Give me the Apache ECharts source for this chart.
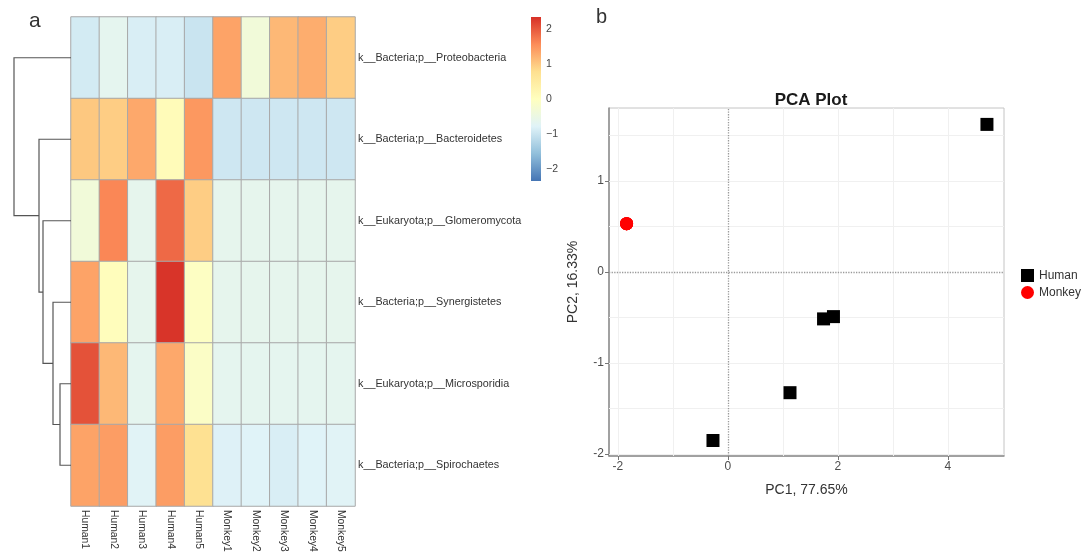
<!DOCTYPE html>
<html><head><meta charset="utf-8">
<script src="https://cdn.jsdelivr.net/npm/echarts@6/dist/echarts.min.js"></script>
<style>html,body{margin:0;padding:0;background:#fff}#c{width:1083px;height:552px}</style>
</head><body><div id="c"></div>
<script>
// ---------- data ----------
const heatCols = ['Human1','Human2','Human3','Human4','Human5','Monkey1','Monkey2','Monkey3','Monkey4','Monkey5'];
const heatRows = ['k__Bacteria;p__Proteobacteria','k__Bacteria;p__Bacteroidetes','k__Eukaryota;p__Glomeromycota',
                  'k__Bacteria;p__Synergistetes','k__Eukaryota;p__Microsporidia','k__Bacteria;p__Spirochaetes'];
const rowProteobacteria = [-0.9,-0.65,-0.85,-0.85,-1.0, 1.35,-0.35, 1.15, 1.25, 0.95];
const rowBacteroidetes  = [ 1.0, 0.95, 1.3, 0.1, 1.45,-0.95,-0.95,-0.95,-0.95,-0.95];
const rowGlomeromycota  = [-0.35, 1.6,-0.62, 1.85, 0.95,-0.62,-0.62,-0.62,-0.62,-0.62];
const rowSynergistetes  = [ 1.35, 0.05,-0.62, 2.3,-0.05,-0.62,-0.62,-0.62,-0.62,-0.62];
const rowMicrosporidia  = [ 2.05, 1.15,-0.66, 1.3,-0.1,-0.66,-0.66,-0.66,-0.66,-0.66];
const rowSpirochaetes   = [ 1.35, 1.4,-0.75, 1.4, 0.75,-0.8,-0.78,-0.85,-0.78,-0.75];
const heatValues = [rowProteobacteria,rowBacteroidetes,rowGlomeromycota,rowSynergistetes,rowMicrosporidia,rowSpirochaetes];
const colorMin = -2.33, colorMax = 2.33;
const colorTicks = [-2,-1,0,1,2];
const palette = ['#4575B4','#91BFDB','#E0F3F8','#FFFFBF','#FEE090','#FC8D59','#D73027'];
// row dendrogram, hclust convention: negative = leaf (1-based), positive = earlier merge step
const dendroMerges = [[-5,-6],[-4,1],[-3,2],[-2,3],[-1,4]];
const dendroHeights = [1.1,1.8,2.8,3.2,5.7];
// PCA
const humanPC1 = [4.71, 1.74, 1.92, 1.13, -0.27];
const humanPC2 = [1.62, -0.515, -0.49, -1.325, -1.85];
const monkeyPC1 = [-1.84,-1.84,-1.84,-1.84,-1.84];
const monkeyPC2 = [0.53, 0.53, 0.53, 0.53, 0.53];
const pcaXTicks = [-2,0,2,4];
const pcaYTicks = [-2,-1,0,1];
const pcaXGrid = [-2,-1,1,2,3,4];
const pcaYGrid = [-2,-1.5,-1,-0.5,0.5,1,1.5];

// ---------- build ----------
const heatData = [];
heatValues.forEach((row, r) => row.forEach((v, c) => heatData.push([c, r, v])));

const nodePos = [], nodeH = [], dendroData = [];
function childInfo(k){ return k < 0 ? [-k - 1 + 0.5, 0] : [nodePos[k-1], nodeH[k-1]]; }
dendroMerges.forEach((m, i) => {
  const [yl, hl] = childInfo(m[0]);
  const [yr, hr] = childInfo(m[1]);
  const h = dendroHeights[i];
  nodePos.push((yl + yr) / 2); nodeH.push(h);
  dendroData.push([h, yl, yr, hl, hr]);
});

const FONT = '"Liberation Sans", Arial, sans-serif';
const chart = echarts.init(document.getElementById('c'), null, {renderer:'canvas'});
const hidden = {show:false};

chart.setOption({
  animation:false,
  textStyle:{fontFamily:FONT},
  title:{text:'PCA Plot', left:806, top:87, textAlign:'center',
         textStyle:{fontSize:17, fontWeight:'bold', color:'#1a1a1a', fontFamily:FONT}},
  graphic:[
    {type:'text', left:29, top:11, style:{text:'a', fontSize:21, fill:'#333', fontFamily:FONT}},
    {type:'text', left:596, top:7, style:{text:'b', fontSize:20, fill:'#333', fontFamily:FONT}}
  ],
  legend:{data:['Human','Monkey'], orient:'vertical', left:1021, top:269, padding:0, itemWidth:13, itemHeight:13, itemGap:4,
          textStyle:{fontSize:12, color:'#333'}},
  grid:[
    {left:71, top:17, width:284, height:489, outerBoundsMode:'none'},
    {left:14, top:17, width:57, height:489, outerBoundsMode:'none'},
    {left:531, top:17, width:10, height:164, outerBoundsMode:'none'},
    {left:609, top:108, width:395, height:348, show:true, borderColor:'#c4c4c4', borderWidth:1, outerBoundsMode:'none'}
  ],
  visualMap:{show:false, min:colorMin, max:colorMax, dimension:2, seriesIndex:0, inRange:{color:palette}},
  xAxis:[
    {type:'category', gridIndex:0, data:heatCols, axisLine:hidden, axisTick:hidden, splitLine:hidden,
     axisLabel:{rotate:-90, fontSize:10.3, color:'#333', margin:4, interval:0}},
    {type:'value', gridIndex:1, min:0, max:5.7, inverse:true, show:false},
    {type:'value', gridIndex:2, min:0, max:1, show:false},
    {type:'value', gridIndex:3, min:-2.16, max:5.02, splitLine:hidden,
     axisLine:{onZero:false, lineStyle:{color:'#8c8c8c', width:1.5}},
     axisTick:{customValues:pcaXTicks, length:4, lineStyle:{color:'#777'}},
     axisLabel:{customValues:pcaXTicks, fontSize:12, color:'#4d4d4d', margin:5},
     name:'PC1, 77.65%', nameLocation:'middle', nameGap:27, nameTextStyle:{fontSize:14, color:'#333'}}
  ],
  yAxis:[
    {type:'category', gridIndex:0, data:heatRows, inverse:true, position:'right', axisLine:hidden, axisTick:hidden,
     splitLine:hidden, axisLabel:{fontSize:10.8, color:'#333', margin:3}},
    {type:'value', gridIndex:1, min:0, max:6, inverse:true, show:false},
    {type:'value', gridIndex:2, min:colorMin, max:colorMax, position:'right', axisLine:hidden, axisTick:hidden,
     splitLine:hidden, axisLabel:{customValues:colorTicks, fontSize:10.5, color:'#444', margin:5,
       formatter:v => String(v).replace('-', '\u2212')}},
    {type:'value', gridIndex:3, min:-2.02, max:1.80, splitLine:hidden,
     axisLine:{onZero:false, lineStyle:{color:'#8c8c8c', width:1.5}},
     axisTick:{customValues:pcaYTicks, length:4, lineStyle:{color:'#777'}},
     axisLabel:{customValues:pcaYTicks, fontSize:12, color:'#4d4d4d', margin:5},
     name:'PC2, 16.33%', nameLocation:'middle', nameGap:29, nameTextStyle:{fontSize:14, color:'#333'}}
  ],
  series:[
    {type:'heatmap', xAxisIndex:0, yAxisIndex:0, data:heatData,
     itemStyle:{borderColor:'#a8a8a8', borderWidth:1}},
    {type:'custom', xAxisIndex:1, yAxisIndex:1, data:dendroData, clip:false, silent:true,
     encode:{x:[0,3], y:[1,2]},
     renderItem:function(params, api){
       const h=api.value(0), yl=api.value(1), yr=api.value(2), hl=api.value(3), hr=api.value(4);
       return {type:'polyline', shape:{points:[api.coord([hl,yl]),api.coord([h,yl]),api.coord([h,yr]),api.coord([hr,yr])]},
               style:{stroke:'#555', lineWidth:1.2, fill:null}};
     }},
    {type:'custom', xAxisIndex:2, yAxisIndex:2, data:[[0, colorMin, 1, colorMax]], silent:true,
     encode:{x:[0,2], y:[1,3]},
     renderItem:function(params, api){
       const p1 = api.coord([api.value(0), api.value(3)]);
       const p2 = api.coord([api.value(2), api.value(1)]);
       const stops = palette.slice().reverse().map((c,i)=>({offset:i/(palette.length-1), color:c}));
       return {type:'rect', shape:{x:p1[0], y:p1[1], width:p2[0]-p1[0], height:p2[1]-p1[1]},
               style:{fill:new echarts.graphic.LinearGradient(0,0,0,1,stops)}};
     }},
    {type:'line', name:'grid', xAxisIndex:3, yAxisIndex:3, data:[], silent:true, z:1,
     markLine:{silent:true, symbol:'none', label:{show:false}, animation:false,
       lineStyle:{color:'#f0f0f0', width:1, type:'solid'},
       data: pcaXGrid.map(v=>({xAxis:v})).concat(pcaYGrid.map(v=>({yAxis:v})))
         .concat([{xAxis:0, lineStyle:{color:'#9a9a9a', type:'dotted', width:1.3}},
                  {yAxis:0, lineStyle:{color:'#9a9a9a', type:'dotted', width:1.3}}])}},
    {type:'scatter', name:'Human', xAxisIndex:3, yAxisIndex:3, symbol:'rect', symbolSize:13, z:5,
     itemStyle:{color:'#000', opacity:1}, data:humanPC1.map((x,i)=>[x, humanPC2[i]])},
    {type:'scatter', name:'Monkey', xAxisIndex:3, yAxisIndex:3, symbol:'circle', symbolSize:13, z:5,
     itemStyle:{color:'#ff0000', opacity:1}, data:monkeyPC1.map((x,i)=>[x, monkeyPC2[i]])}
  ]
});
</script></body></html>
